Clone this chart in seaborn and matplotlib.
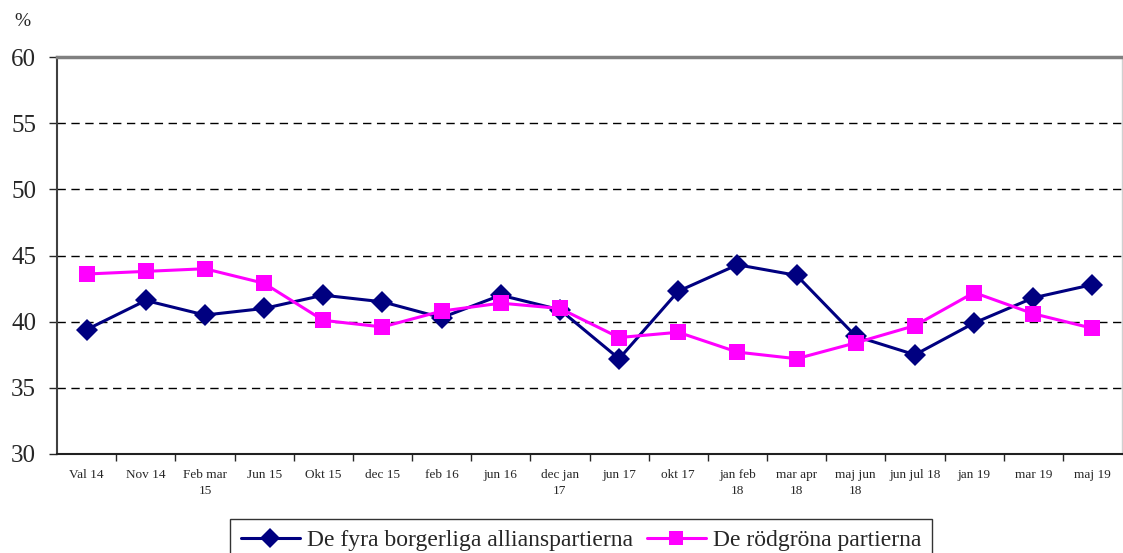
import matplotlib
matplotlib.use("Agg")
from matplotlib import pyplot as plt
import pandas as pd
import seaborn as sns

labels = ['Val 14', 'Nov 14', 'Feb mar\n15', 'Jun 15', 'Okt 15', 'dec 15', 'feb 16', 'jun 16',
          'dec jan\n17', 'jun 17', 'okt 17', 'jan feb\n18', 'mar apr\n18', 'maj jun\n18',
          'jun jul 18', 'jan 19', 'mar 19', 'maj 19']
alliansen = [39.4, 41.6, 40.5, 41.0, 42.0, 41.5, 40.3, 42.0, 40.9, 37.2, 42.3, 44.3, 43.5,
             38.9, 37.5, 39.9, 41.8, 42.8]
rodgrona = [43.6, 43.8, 44.0, 42.9, 40.1, 39.6, 40.8, 41.4, 41.0, 38.8, 39.2, 37.7, 37.2,
            38.4, 39.7, 42.2, 40.6, 39.5]
series_names = ['De fyra borgerliga allianspartierna', 'De rödgröna partierna']

sns.set_style('white')
plt.rcParams['font.family'] = ['Liberation Serif', 'DejaVu Serif']

df = pd.DataFrame({'pos': list(range(len(labels))) * 2,
                   'value': alliansen + rodgrona,
                   'serie': [series_names[0]] * len(labels) + [series_names[1]] * len(labels)})

fig = plt.figure(figsize=(11.23, 5.53), dpi=100)
ax = fig.add_axes([57 / 1123, 1 - 454 / 553, 1065 / 1123, 397 / 553])

sns.lineplot(ax=ax, data=df, x='pos', y='value', hue='serie', style='serie',
             palette=['#000080', '#FF00FF'], markers=['D', 's'], dashes=False,
             markersize=11, linewidth=2.2, markeredgewidth=0, legend=False)

ax.set_xlim(-0.5, len(labels) - 0.5)
ax.set_ylim(30, 60)
ax.set_yticks(range(30, 61, 5))
ax.tick_params(axis='y', labelsize=18, length=6, pad=9, direction='out', left=True, width=1)
ax.set_xticks(range(len(labels)))
ax.set_xticklabels(labels, fontsize=9.5, linespacing=1.4)
ax.set_xticks([i - 0.5 for i in range(1, len(labels))], minor=True)
ax.tick_params(axis='x', which='major', length=0, pad=11)
ax.tick_params(axis='x', which='minor', length=5, width=1, bottom=True, direction='out')
ax.set_xlabel('')
ax.set_ylabel('')

for y in range(35, 60, 5):
    ax.axhline(y, color='black', linestyle=(0, (6, 4)), linewidth=1, zorder=0)

ax.spines['left'].set_color('#404040')
ax.spines['left'].set_linewidth(1.5)
ax.spines['bottom'].set_color('#202020')
ax.spines['bottom'].set_linewidth(1.5)
ax.spines['top'].set_color('#808080')
ax.spines['top'].set_linewidth(2.5)
ax.spines['right'].set_color('#d0d0d0')
ax.spines['right'].set_linewidth(1)

fig.text(22 / 1123, 1 - 22 / 553, '%', fontsize=14, ha='center', va='center')

handles = [plt.Line2D([], [], color='#000080', marker='D', markersize=10, linewidth=2.2, markeredgewidth=0),
           plt.Line2D([], [], color='#FF00FF', marker='s', markersize=10, linewidth=2.2, markeredgewidth=0)]
leg = fig.legend(handles, series_names, loc='upper center', bbox_to_anchor=(581 / 1123, 1 - 519 / 553),
                 ncol=2, fontsize=17, frameon=True, fancybox=False, handlelength=2.5,
                 handletextpad=0.3, columnspacing=0.6, borderpad=0.45, borderaxespad=0)
leg.get_frame().set_edgecolor('black')
leg.get_frame().set_linewidth(1)

fig.savefig('out.png', dpi=100)
